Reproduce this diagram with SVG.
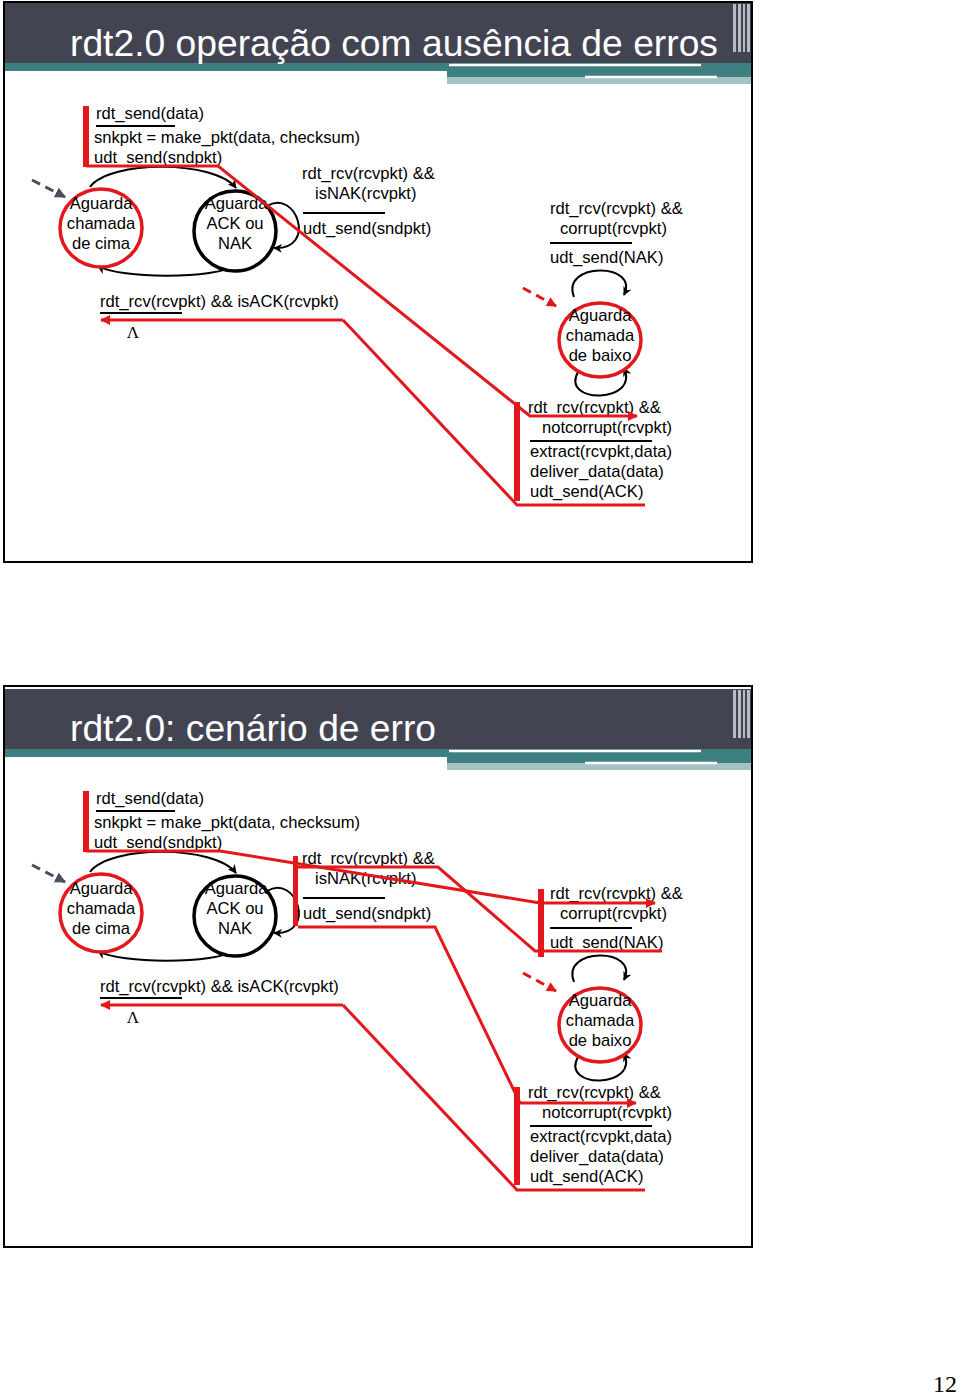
<svg xmlns="http://www.w3.org/2000/svg" width="960" height="1397" viewBox="0 0 960 1397">
<style>
.t{font-family:"Liberation Sans",Arial,sans-serif;font-size:16.6px;fill:#000}
.c{text-anchor:middle}
.lam{font-family:"Liberation Serif","Times New Roman",serif;font-size:17px;fill:#000;text-anchor:middle}
.title{font-family:"Liberation Sans",Arial,sans-serif;font-size:37px;fill:#fff}
.sep{stroke:#000;stroke-width:2}
.edge{fill:none;stroke:#000;stroke-width:2}
.init{fill:none;stroke:#4a4f5e;stroke-width:3;stroke-dasharray:9 6}
.initr{fill:none;stroke:#e3181d;stroke-width:3;stroke-dasharray:9 6}
.red{fill:none;stroke:#e3181d;stroke-width:3}
.bar{fill:#e3181d}
.sk{fill:#fff;stroke:#000;stroke-width:3.5}
.sr{fill:#fff;stroke:#e3181d;stroke-width:3.5}
.hd{fill:#434452}
.teal{fill:#3e7f81}
.light{fill:#a5c2c2}
.wl{stroke:#fff;stroke-width:2.5}
.frame{fill:#fff;stroke:#000;stroke-width:2}
.stripe{fill:#b9bac4}
</style>
<defs>
<marker id="ak" viewBox="0 0 10 10" refX="9" refY="5" markerWidth="9" markerHeight="9" markerUnits="userSpaceOnUse" orient="auto"><path d="M0,0 L10,5 L0,10 L3,5 z" fill="#000"/></marker>
<marker id="ag" viewBox="0 0 10 10" refX="9" refY="5" markerWidth="11" markerHeight="11" markerUnits="userSpaceOnUse" orient="auto"><path d="M0,0 L10,5 L0,10 z" fill="#4a4f5e"/></marker>
<marker id="ar" viewBox="0 0 10 10" refX="9" refY="5" markerWidth="12" markerHeight="10" markerUnits="userSpaceOnUse" orient="auto"><path d="M0,0 L10,5 L0,10 z" fill="#e3181d"/></marker>
<g id="header">
<rect class="hd" x="5" y="3" width="746" height="61"/>
<rect class="teal" x="5" y="63" width="746" height="8"/>
<rect class="teal" x="447" y="63" width="304" height="14"/>
<rect class="light" x="447" y="77" width="304" height="7"/>
<line class="wl" x1="449" y1="65" x2="701" y2="65"/>
<line class="wl" x1="585" y1="77" x2="717" y2="77"/>
<rect class="stripe" x="733" y="4" width="3" height="48"/>
<rect class="stripe" x="738" y="4" width="3" height="48"/>
<rect class="stripe" x="743" y="4" width="2" height="48"/>
<rect class="stripe" x="747" y="4" width="3" height="48"/>
</g>
</defs>

<g id="slide1">
<rect class="frame" x="4" y="2" width="748" height="560"/>
<use href="#header"/>
<text class="title" x="70" y="56" textLength="648" lengthAdjust="spacingAndGlyphs">rdt2.0 operação com ausência de erros</text>

<g id="s1-connectors">
<path class="init" d="M32,180 L65,197" marker-end="url(#ag)"/>
<path class="edge" d="M90,187 C110,160 215,160 236,188" marker-end="url(#ak)"/>
<path class="edge" d="M237,265 C215,279 120,279 98,266" marker-end="url(#ak)"/>
<path class="edge" d="M267,206 C296,188 318,250 274,248" marker-end="url(#ak)"/>
<path class="initr" d="M523,288 L556,306" marker-end="url(#ar)"/>
<path class="edge" d="M574,297 C560,262 640,262 624,295" marker-end="url(#ak)"/>
<path class="edge" d="M578,372 C560,404 640,404 624,368" marker-end="url(#ak)"/>
</g>

<g id="s1-wait-above">
<ellipse class="sr" cx="101" cy="228" rx="41" ry="39"/>
<text class="t c" x="101" y="209">Aguarda</text>
<text class="t c" x="101" y="229">chamada</text>
<text class="t c" x="101" y="249">de cima</text>
</g>
<g id="s1-wait-ack">
<ellipse class="sk" cx="235" cy="231" rx="41" ry="40"/>
<text class="t c" x="236" y="209">Aguarda</text>
<text class="t c" x="235" y="229">ACK ou</text>
<text class="t c" x="235" y="249">NAK</text>
</g>
<g id="s1-wait-below">
<ellipse class="sr" cx="600" cy="340" rx="41" ry="37"/>
<text class="t c" x="600" y="321">Aguarda</text>
<text class="t c" x="600" y="341">chamada</text>
<text class="t c" x="600" y="361">de baixo</text>
</g>

<g id="s1-labels">
<text class="t" x="96" y="119">rdt_send(data)</text>
<line class="sep" x1="96" y1="126" x2="175" y2="126"/>
<text class="t" x="94" y="143">snkpkt = make_pkt(data, checksum)</text>
<text class="t" x="94" y="163">udt_send(sndpkt)</text>
<text class="t" x="302" y="179">rdt_rcv(rcvpkt) &amp;&amp;</text>
<text class="t" x="315" y="199">isNAK(rcvpkt)</text>
<line class="sep" x1="303" y1="213" x2="385" y2="213"/>
<text class="t" x="303" y="234">udt_send(sndpkt)</text>
<text class="t" x="550" y="214">rdt_rcv(rcvpkt) &amp;&amp;</text>
<text class="t" x="560" y="234">corrupt(rcvpkt)</text>
<line class="sep" x1="550" y1="243" x2="632" y2="243"/>
<text class="t" x="550" y="263">udt_send(NAK)</text>
<text class="t" x="100" y="307">rdt_rcv(rcvpkt) &amp;&amp; isACK(rcvpkt)</text>
<line class="sep" x1="100" y1="313" x2="182" y2="313"/>
<text class="lam" x="133" y="338">Λ</text>
<text class="t" x="528" y="413">rdt_rcv(rcvpkt) &amp;&amp;</text>
<text class="t" x="542" y="433">notcorrupt(rcvpkt)</text>
<line class="sep" x1="530" y1="441" x2="652" y2="441"/>
<text class="t" x="530" y="457">extract(rcvpkt,data)</text>
<text class="t" x="530" y="477">deliver_data(data)</text>
<text class="t" x="530" y="497">udt_send(ACK)</text>
</g>

<g id="s1-highlights">
<rect class="bar" x="83" y="106" width="6" height="61"/>
<path class="red" d="M86,166 L218,166 L530,416 L637,416" marker-end="url(#ar)"/>
<rect class="bar" x="514" y="402" width="6" height="99"/>
<path class="red" d="M343,320 L101,320" marker-end="url(#ar)"/>
<path class="red" d="M343,320 L517,505 L645,505"/>
</g>
</g>

<g id="slide2" transform="translate(0,685)">
<rect class="frame" x="4" y="1" width="748" height="561"/>
<use href="#header" transform="translate(0,1)"/>
<text class="title" x="70" y="56" textLength="366" lengthAdjust="spacingAndGlyphs">rdt2.0: cenário de erro</text>

<g id="s2-connectors">
<path class="init" d="M32,180 L65,197" marker-end="url(#ag)"/>
<path class="edge" d="M90,187 C110,160 215,160 236,188" marker-end="url(#ak)"/>
<path class="edge" d="M237,265 C215,279 120,279 98,266" marker-end="url(#ak)"/>
<path class="edge" d="M267,206 C296,188 318,250 274,248" marker-end="url(#ak)"/>
<path class="initr" d="M523,288 L556,306" marker-end="url(#ar)"/>
<path class="edge" d="M574,297 C560,262 640,262 624,295" marker-end="url(#ak)"/>
<path class="edge" d="M578,372 C560,404 640,404 624,368" marker-end="url(#ak)"/>
</g>

<g id="s2-wait-above">
<ellipse class="sr" cx="101" cy="228" rx="41" ry="39"/>
<text class="t c" x="101" y="209">Aguarda</text>
<text class="t c" x="101" y="229">chamada</text>
<text class="t c" x="101" y="249">de cima</text>
</g>
<g id="s2-wait-ack">
<ellipse class="sk" cx="235" cy="231" rx="41" ry="40"/>
<text class="t c" x="236" y="209">Aguarda</text>
<text class="t c" x="235" y="229">ACK ou</text>
<text class="t c" x="235" y="249">NAK</text>
</g>
<g id="s2-wait-below">
<ellipse class="sr" cx="600" cy="340" rx="41" ry="37"/>
<text class="t c" x="600" y="321">Aguarda</text>
<text class="t c" x="600" y="341">chamada</text>
<text class="t c" x="600" y="361">de baixo</text>
</g>

<g id="s2-labels">
<text class="t" x="96" y="119">rdt_send(data)</text>
<line class="sep" x1="96" y1="126" x2="175" y2="126"/>
<text class="t" x="94" y="143">snkpkt = make_pkt(data, checksum)</text>
<text class="t" x="94" y="163">udt_send(sndpkt)</text>
<text class="t" x="302" y="179">rdt_rcv(rcvpkt) &amp;&amp;</text>
<text class="t" x="315" y="199">isNAK(rcvpkt)</text>
<line class="sep" x1="303" y1="213" x2="385" y2="213"/>
<text class="t" x="303" y="234">udt_send(sndpkt)</text>
<text class="t" x="550" y="214">rdt_rcv(rcvpkt) &amp;&amp;</text>
<text class="t" x="560" y="234">corrupt(rcvpkt)</text>
<line class="sep" x1="550" y1="243" x2="632" y2="243"/>
<text class="t" x="550" y="263">udt_send(NAK)</text>
<text class="t" x="100" y="307">rdt_rcv(rcvpkt) &amp;&amp; isACK(rcvpkt)</text>
<line class="sep" x1="100" y1="313" x2="182" y2="313"/>
<text class="lam" x="133" y="338">Λ</text>
<text class="t" x="528" y="413">rdt_rcv(rcvpkt) &amp;&amp;</text>
<text class="t" x="542" y="433">notcorrupt(rcvpkt)</text>
<line class="sep" x1="530" y1="441" x2="652" y2="441"/>
<text class="t" x="530" y="457">extract(rcvpkt,data)</text>
<text class="t" x="530" y="477">deliver_data(data)</text>
<text class="t" x="530" y="497">udt_send(ACK)</text>
</g>

<g id="s2-highlights">
<rect class="bar" x="83" y="106" width="6" height="61"/>
<path class="red" d="M86,166 L220,166 L540,218 L655,218" marker-end="url(#ar)"/>
<rect class="bar" x="293" y="171" width="5" height="70"/>
<path class="red" d="M298,182 L438,182 L535,266 L662,266"/>
<rect class="bar" x="538" y="204" width="6" height="68"/>
<path class="red" d="M298,242 L435,242 L520,418 L636,418" marker-end="url(#ar)"/>
<rect class="bar" x="514" y="402" width="6" height="98"/>
<path class="red" d="M343,320 L101,320" marker-end="url(#ar)"/>
<path class="red" d="M343,320 L517,505 L645,505"/>
</g>
</g>

<text x="957" y="1392" font-family="'Liberation Serif','Times New Roman',serif" font-size="24" text-anchor="end" fill="#000">12</text>
</svg>
